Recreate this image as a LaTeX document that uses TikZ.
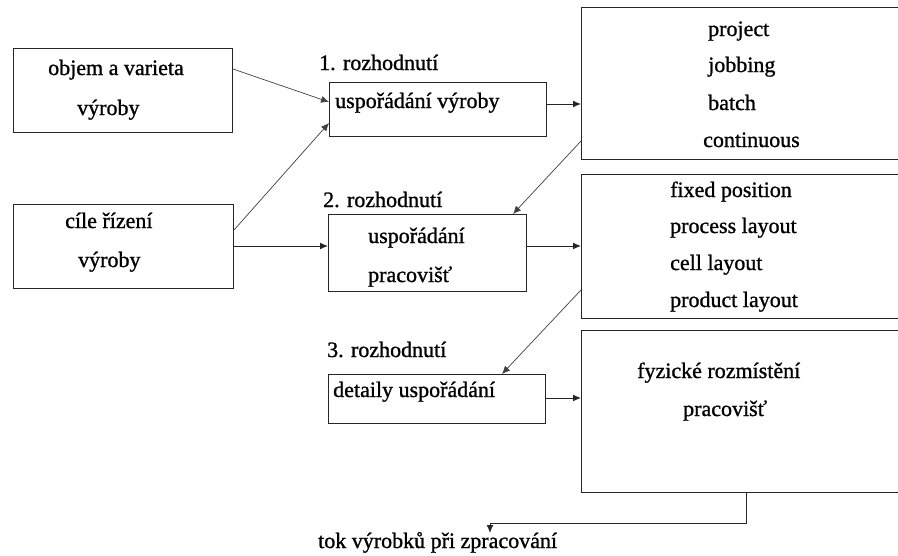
\documentclass[tikz,border=0pt]{standalone}
\usepackage{fontspec}
\setmainfont{Liberation Serif}
\newfontfamily\labelfont{Liberation Serif}[BoldFont={Liberation Serif},BoldFeatures={FakeBold=1}]
\usetikzlibrary{arrows.meta}
\begin{document}
\begin{tikzpicture}[x=1pt,y=-1pt,
  box/.style={draw=black!85,line width=1pt,anchor=north west,inner sep=0pt,minimum width=#1},
  txt/.style={anchor=base west,inner sep=0pt,font=\labelfont\bfseries\fontsize{22}{26}\selectfont,text=black},
  arr/.style={draw=black!85,line width=1pt,-{Latex[length=8pt,width=7pt]}},
  slant/.style={draw=black!75,line width=0.7pt,-{Latex[length=8pt,width=7pt]}}]
\useasboundingbox (0,0) rectangle (898,555);
\fill[white] (0,0) rectangle (898,555);

% boxes
\node[box=219pt,minimum height=84pt] (A) at (13,48) {};
\node[box=220pt,minimum height=84pt] (B) at (13,204) {};
\node[box=217pt,minimum height=54pt] (C) at (329,82) {};
\node[box=198pt,minimum height=77pt] (D) at (328,214) {};
\node[box=217pt,minimum height=49pt] (H) at (328,374) {};
\node[box=318pt,minimum height=152pt] (E) at (581,7) {};
\node[box=318pt,minimum height=144pt] (F) at (581,174) {};
\node[box=318pt,minimum height=162pt] (G) at (581,330) {};

% texts
\node[txt] (a1) at (48,75) {objem a varieta};
\node[txt] (a2) at (77,115) {výroby};
\node[txt] (b1) at (65,228) {cíle řízení};
\node[txt] (b2) at (78,267) {výroby};
\node[txt] (r1) at (319,70) {1. rozhodnutí};
\node[txt] (c1) at (335,108) {uspořádání výroby};
\node[txt] (r2) at (323,207) {2. rozhodnutí};
\node[txt] (d1) at (368,243) {uspořádání};
\node[txt] (d2) at (368,282) {pracovišť};
\node[txt] (r3) at (327,357) {3. rozhodnutí};
\node[txt] (h1) at (333,397) {detaily uspořádání};
\node[txt] (e1) at (708,36) {project};
\node[txt] (e2) at (708,72) {jobbing};
\node[txt] (e3) at (708,110) {batch};
\node[txt] (e4) at (703,147) {continuous};
\node[txt] (f1) at (670,197) {fixed position};
\node[txt] (f2) at (670,233) {process layout};
\node[txt] (f3) at (670,270) {cell layout};
\node[txt] (f4) at (670,307) {product layout};
\node[txt] (g1) at (637,378) {fyzické rozmístění};
\node[txt] (g2) at (683,416) {pracovišť};
\node[txt] (T) at (318,548) {tok výrobků při zpracování};
\coordinate (tin) at (490,533);

% connectors
\draw[slant] ([yshift=-21pt]A.north east) -- ([yshift=-20pt]C.north west);
\draw[slant] ([yshift=-26pt]B.north east) -- ([yshift=-41pt]C.north west);
\draw[arr] ([yshift=-42pt]B.north east) -- ([yshift=-32pt]D.north west);
\draw[arr] ([yshift=-22pt]C.north east) -- ([yshift=-97pt]E.north west);
\draw[slant] ([yshift=-134pt]E.north west) -- ([xshift=-14pt]D.north east);
\draw[arr] ([yshift=-32pt]D.north east) -- ([yshift=-72pt]F.north west);
\draw[slant] ([yshift=-116pt]F.north west) -- ([xshift=174pt]H.north west);
\draw[arr] ([yshift=-24pt]H.north east) -- ([yshift=-68pt]G.north west);
\draw[arr] ([xshift=165pt]G.south west) -- ++(0,30) -| (tin);
\end{tikzpicture}
\end{document}
